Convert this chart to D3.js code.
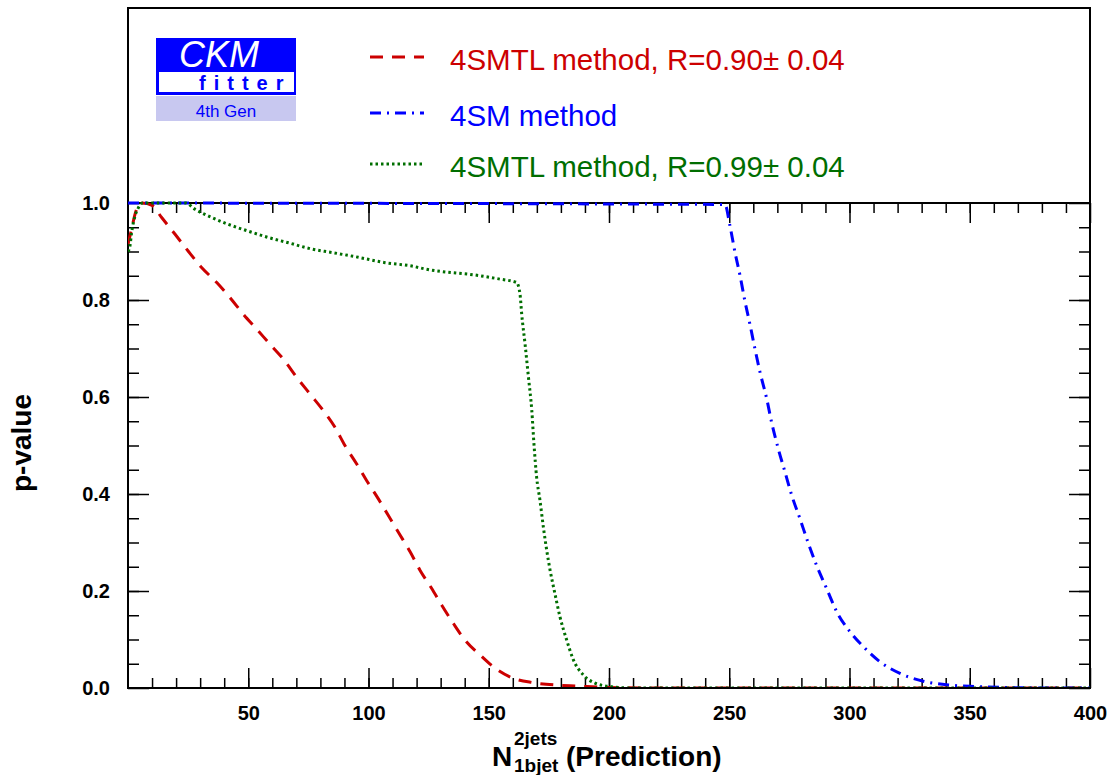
<!DOCTYPE html>
<html>
<head>
<meta charset="utf-8">
<script src="https://cdn.jsdelivr.net/npm/d3@7"></script>
<style>
  body { margin: 0; background: #ffffff; }
  text { font-family: "Liberation Sans", Arial, sans-serif; }
</style>
</head>
<body>
<script>
// Données (N prédit, p-value)
const redN = [0, 1.2, 3.6, 6, 10, 14, 19.5, 25, 30.6, 36.9, 42.4, 47.9, 53.5, 59, 64.6, 70.1, 75.7, 81.2, 86, 90.2, 95.1, 99.2, 104.1, 108.2, 112.8, 117.3, 121.4, 126.3, 130.4, 135.3, 140.1, 146.4, 152.6, 160.2, 168.5, 178.3, 186.6, 200, 220, 400]
const redP = [0.915, 0.94, 0.987, 1.0, 0.995, 0.970, 0.936, 0.901, 0.867, 0.836, 0.805, 0.771, 0.740, 0.709, 0.678, 0.641, 0.606, 0.572, 0.538, 0.500, 0.462, 0.428, 0.390, 0.356, 0.318, 0.281, 0.243, 0.205, 0.171, 0.133, 0.099, 0.068, 0.041, 0.020, 0.011, 0.006, 0.004, 0.001, 0, 0]

const blueN = [0, 248.2, 250.3, 252.4, 254.5, 256.5, 258.6, 260.7, 262.8, 265.6, 267.6, 270.4, 273.2, 276, 279.4, 282.9, 286.3, 290.5, 294.7, 300.2, 305.8, 312.7, 321, 330.7, 341.9, 353, 365, 380, 400]
const blueP = [1, 0.997, 0.953, 0.898, 0.850, 0.798, 0.750, 0.699, 0.651, 0.596, 0.548, 0.493, 0.445, 0.397, 0.349, 0.298, 0.253, 0.205, 0.157, 0.116, 0.085, 0.054, 0.030, 0.014, 0.006, 0.003, 0.001, 0, 0]

const greenN = [0, 0.8, 1.5, 2.9, 4.3, 6, 24, 27.9, 34.8, 41.7, 50, 58.3, 66.7, 76.4, 84.7, 95.8, 106.9, 118, 123.5, 146.4, 154.7, 161.6, 163, 163.7, 165.1, 166.5, 167.9, 168.8, 169.9, 171.3, 172.7, 174.1, 175.5, 177.5, 179.6, 182.4, 185.2, 189.3, 194.2, 200.4, 210, 400]
const greenP = [0.90, 0.911, 0.939, 0.973, 0.99, 1.0, 1.0, 0.987, 0.970, 0.956, 0.942, 0.929, 0.918, 0.905, 0.898, 0.888, 0.877, 0.870, 0.864, 0.850, 0.843, 0.836, 0.812, 0.771, 0.709, 0.641, 0.572, 0.503, 0.435, 0.387, 0.332, 0.284, 0.243, 0.195, 0.147, 0.099, 0.058, 0.027, 0.010, 0.003, 0, 0]

const legendLabels = ['4SMTL method, R=0.90\u00b1 0.04', '4SM method', '4SMTL method, R=0.99\u00b1 0.04']
const xTicks = [50, 100, 150, 200, 250, 300, 350, 400]
const yTicks = [0, 0.2, 0.4, 0.6, 0.8, 1.0]

const width = 1114, height = 775
const plot = { left: 128, right: 1090, top: 203, bottom: 688, frameTop: 8 }

const svg = d3.select('body').append('svg')
    .attr('width', width)
    .attr('height', height)

// Echelles
const x = d3.scaleLinear().domain([0, 400]).range([plot.left, plot.right])
const y = d3.scaleLinear().domain([0, 1]).range([plot.bottom, plot.top])

const minorX = d3.range(10, 400, 10)
const minorY = d3.range(0.05, 1, 0.05)

// Axe du bas (graduations vers l'intérieur)
svg.append('g')
    .attr('transform', `translate(0, ${plot.bottom})`)
    .call(d3.axisBottom(x).tickValues(minorX).tickSize(-10).tickFormat(''))
svg.append('g')
    .attr('class', 'xaxis')
    .attr('transform', `translate(0, ${plot.bottom})`)
    .call(d3.axisBottom(x).tickValues(xTicks).tickSize(-20).tickPadding(18).tickFormat(d3.format('d')))

// Axe du haut
svg.append('g')
    .attr('transform', `translate(0, ${plot.top})`)
    .call(d3.axisTop(x).tickValues(minorX).tickSize(-10).tickFormat(''))
svg.append('g')
    .attr('transform', `translate(0, ${plot.top})`)
    .call(d3.axisTop(x).tickValues(xTicks).tickSize(-20).tickFormat(''))

// Axe de gauche
svg.append('g')
    .attr('transform', `translate(${plot.left}, 0)`)
    .call(d3.axisLeft(y).tickValues(minorY).tickSize(-11).tickFormat(''))
svg.append('g')
    .attr('class', 'yaxis')
    .attr('transform', `translate(${plot.left}, 0)`)
    .call(d3.axisLeft(y).tickValues(yTicks).tickSize(-21).tickPadding(18).tickFormat(d3.format('.1f')))

// Axe de droite
svg.append('g')
    .attr('transform', `translate(${plot.right}, 0)`)
    .call(d3.axisRight(y).tickValues(minorY).tickSize(-11).tickFormat(''))
svg.append('g')
    .attr('transform', `translate(${plot.right}, 0)`)
    .call(d3.axisRight(y).tickValues(yTicks).tickSize(-21).tickFormat(''))

svg.selectAll('.domain').remove()
svg.selectAll('.tick line').attr('stroke', '#000').attr('stroke-width', 1.5)
svg.selectAll('.xaxis text, .yaxis text')
    .attr('fill', '#000')
    .style('font-size', '20px')
    .style('font-weight', 'bold')
    .style('font-family', '"Liberation Sans", Arial, sans-serif')

// Cadre
svg.append('rect')
    .attr('x', plot.left)
    .attr('y', plot.frameTop)
    .attr('width', plot.right - plot.left)
    .attr('height', plot.bottom - plot.frameTop)
    .attr('fill', 'none')
    .attr('stroke', '#000')
    .attr('stroke-width', 2)
svg.append('line')
    .attr('x1', plot.left).attr('x2', plot.right)
    .attr('y1', plot.top).attr('y2', plot.top)
    .attr('stroke', '#000')
    .attr('stroke-width', 2)

// Courbes
svg.append('clipPath').attr('id', 'clip')
    .append('rect')
    .attr('x', plot.left)
    .attr('y', plot.top - 3)
    .attr('width', plot.right - plot.left)
    .attr('height', plot.bottom - plot.top + 2)

const line = d3.line()
    .x(d => x(d[0]))
    .y(d => y(d[1]))
    .curve(d3.curveMonotoneX)

const series = [
    { n: redN, p: redP, color: '#cc0000', dash: '13,9', w: 3 },
    { n: blueN, p: blueP, color: '#0000ff', dash: '11,6,2,6', w: 3 },
    { n: greenN, p: greenP, color: '#006e00', dash: '2.5,3', w: 3 }
]

svg.append('g')
    .attr('clip-path', 'url(#clip)')
    .selectAll('path')
    .data(series)
    .join('path')
    .attr('d', s => line(s.n.map((v, i) => [v, s.p[i]])))
    .attr('fill', 'none')
    .attr('stroke', s => s.color)
    .attr('stroke-width', s => s.w)
    .attr('stroke-dasharray', s => s.dash)

// Légende
const legendY = [57, 113, 164]
const legend = svg.append('g')
series.forEach((s, i) => {
    legend.append('line')
        .attr('x1', 370).attr('x2', 424)
        .attr('y1', legendY[i]).attr('y2', legendY[i])
        .attr('stroke', s.color)
        .attr('stroke-width', s.w)
        .attr('stroke-dasharray', s.dash)
    legend.append('text')
        .attr('x', 450)
        .attr('y', legendY[i] + 13)
        .attr('fill', s.color)
        .style('font-size', '29.5px')
        .text(legendLabels[i])
})

// Logo CKMfitter
const logo = svg.append('g')
logo.append('rect').attr('x', 156).attr('y', 38).attr('width', 140).attr('height', 57).attr('fill', '#0000ff')
logo.append('rect').attr('x', 159).attr('y', 72).attr('width', 135).attr('height', 20).attr('fill', '#ffffff')
logo.append('rect').attr('x', 156).attr('y', 96).attr('width', 140).attr('height', 25).attr('fill', '#c8c8f0')
logo.append('text')
    .attr('x', 219).attr('y', 67)
    .attr('text-anchor', 'middle')
    .attr('fill', '#ffffff')
    .style('font-size', '36px')
    .style('font-style', 'italic')
    .text('CKM')
logo.append('text')
    .attr('x', 199).attr('y', 90)
    .attr('fill', '#0000ff')
    .style('font-size', '20px')
    .style('font-weight', 'bold')
    .style('letter-spacing', '8px')
    .text('fitter')
logo.append('text')
    .attr('x', 226).attr('y', 117)
    .attr('text-anchor', 'middle')
    .attr('fill', '#0000ff')
    .style('font-size', '17px')
    .text('4th Gen')

// Titres des axes
const xt = svg.append('text')
    .attr('fill', '#000')
    .style('font-weight', 'bold')
xt.append('tspan').attr('x', 492).attr('y', 766).style('font-size', '28px').text('N')
xt.append('tspan').attr('x', 514).attr('y', 745).style('font-size', '19px').text('2jets')
xt.append('tspan').attr('x', 514).attr('y', 772).style('font-size', '19px').text('1bjet')
xt.append('tspan').attr('x', 566).attr('y', 766).style('font-size', '28px').text('(Prediction)')

svg.append('text')
    .attr('transform', 'translate(31, 443) rotate(-90)')
    .attr('text-anchor', 'middle')
    .attr('fill', '#000')
    .style('font-size', '28px')
    .style('font-weight', 'bold')
    .text('p-value')
</script>
</body>
</html>
